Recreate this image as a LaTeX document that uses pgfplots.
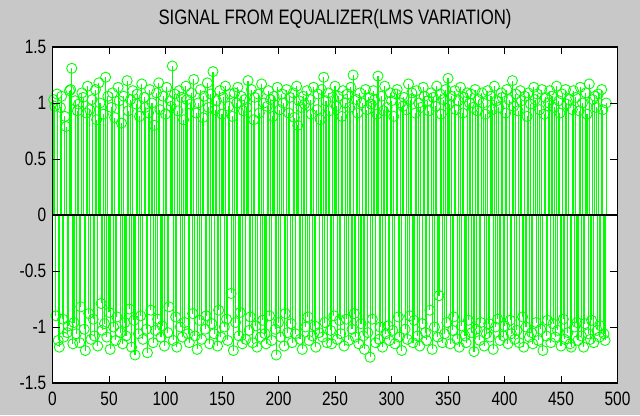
\documentclass[border=0pt]{standalone}
\usepackage{pgfplots}
\pgfplotsset{compat=1.18}
\usepackage{pgfplotstable}
\usepackage{fontspec}
\setmainfont{Liberation Sans}
\newfontfamily\narrowfont[FakeStretch=0.8]{Liberation Sans}
\definecolor{figgray}{RGB}{200,200,200}
\definecolor{mgreen}{RGB}{0,255,0}

\pgfplotstableread[row sep=\\]{
y\\
1.03\\ 0.97\\ -0.90\\ 1.08\\ -1.12\\ -1.18\\ 0.96\\ 1.06\\ -0.93\\ -1.09\\
0.88\\ 0.79\\ -1.05\\ -0.99\\ 1.11\\ 1.12\\ 1.31\\ -1.15\\ -0.96\\ 1.02\\
-1.06\\ 0.93\\ 0.99\\ -1.14\\ -0.82\\ 1.09\\ 1.05\\ -1.02\\ -1.21\\ 0.91\\
1.15\\ -0.88\\ 0.94\\ -1.11\\ 1.03\\ -0.93\\ -1.08\\ 1.12\\ 0.85\\ -1.17\\
1.18\\ 1.00\\ -0.79\\ -1.03\\ 0.90\\ -0.97\\ 1.23\\ -1.09\\ 1.06\\ -0.87\\
-1.20\\ 0.96\\ 1.09\\ -1.00\\ 0.87\\ -1.12\\ -0.91\\ 1.14\\ 1.02\\ -1.05\\
0.82\\ -1.15\\ 1.06\\ -0.96\\ -1.08\\ 1.20\\ 0.93\\ -0.84\\ 1.03\\ -1.18\\
1.11\\ -0.94\\ -1.25\\ 0.99\\ 1.08\\ -1.06\\ 0.88\\ -0.90\\ 1.17\\ -1.11\\
1.05\\ 0.96\\ -1.02\\ -1.23\\ 0.91\\ 1.12\\ -0.85\\ 1.00\\ -1.14\\ 0.80\\
-1.03\\ 1.09\\ -0.93\\ 1.18\\ 0.94\\ -1.09\\ -0.99\\ 1.06\\ -1.17\\ 0.90\\
1.14\\ -1.05\\ -0.82\\ 1.02\\ 0.97\\ 1.33\\ -1.12\\ 1.08\\ -0.91\\ -1.18\\
0.93\\ 1.11\\ -1.00\\ 1.05\\ -1.09\\ 0.85\\ -0.96\\ 1.15\\ 1.03\\ -1.06\\
-1.14\\ 0.99\\ 1.09\\ -0.88\\ 1.21\\ -1.08\\ 0.91\\ -1.20\\ 1.00\\ -0.94\\
1.12\\ -1.11\\ 0.87\\ 1.06\\ -1.02\\ -0.90\\ 1.18\\ 0.96\\ -1.15\\ 1.08\\
-0.97\\ 1.28\\ -1.06\\ 0.94\\ 1.02\\ -1.17\\ -0.85\\ 1.11\\ -1.09\\ 0.90\\
1.05\\ -1.00\\ 1.15\\ -0.93\\ -1.12\\ 0.97\\ 1.08\\ -0.70\\ 0.88\\ -1.21\\
1.09\\ -0.96\\ 1.00\\ 1.14\\ -1.08\\ -0.87\\ 1.06\\ -1.15\\ 0.93\\ 1.03\\
-1.11\\ 0.96\\ 1.20\\ -1.03\\ -0.91\\ 1.12\\ -1.14\\ 0.85\\ 1.05\\ -0.99\\
-1.18\\ 1.08\\ 0.91\\ -1.09\\ 1.17\\ -0.94\\ 1.00\\ -1.06\\ -1.15\\ 0.97\\
1.11\\ -0.90\\ 1.03\\ -1.12\\ 0.88\\ 1.06\\ -1.02\\ -1.25\\ 1.14\\ -0.96\\
0.94\\ -1.09\\ 1.08\\ 1.00\\ -1.17\\ -0.88\\ 1.12\\ -1.05\\ 0.91\\ 1.05\\
-0.97\\ -1.14\\ 1.09\\ 0.87\\ -1.06\\ 1.15\\ 0.80\\ 1.02\\ -1.11\\ 0.96\\
-1.20\\ 1.06\\ 0.99\\ -1.00\\ 1.11\\ -0.91\\ -1.12\\ 1.03\\ 0.90\\ -1.08\\
1.14\\ -0.99\\ -1.18\\ 0.94\\ 1.08\\ -1.05\\ 0.85\\ 1.12\\ -1.09\\ 1.23\\
-0.96\\ 1.02\\ -1.14\\ 1.09\\ 0.93\\ -1.03\\ -1.15\\ 1.05\\ -0.90\\ 1.15\\
0.97\\ -1.11\\ 1.06\\ -0.94\\ -1.06\\ 0.88\\ 1.11\\ -1.17\\ 1.00\\ -0.93\\
1.08\\ -1.12\\ 0.96\\ 1.14\\ -1.02\\ 1.25\\ -0.88\\ -1.09\\ 1.03\\ 0.91\\
-1.15\\ 1.09\\ -0.97\\ 1.00\\ -1.08\\ -1.20\\ 1.12\\ 0.94\\ -1.05\\ 1.05\\
-1.27\\ 0.99\\ -0.93\\ 1.11\\ 1.03\\ -1.14\\ 0.90\\ 1.24\\ -1.11\\ -1.00\\
1.06\\ -1.18\\ 0.93\\ 1.15\\ -1.06\\ 0.96\\ -0.99\\ -1.12\\ 1.09\\ 1.02\\
-1.03\\ 0.88\\ -1.15\\ 1.08\\ 1.12\\ -0.91\\ -1.09\\ 1.00\\ -1.21\\ 0.97\\
1.05\\ -1.02\\ 0.94\\ -1.11\\ 1.17\\ -0.90\\ 1.03\\ 1.09\\ -1.14\\ -0.94\\
0.91\\ 1.11\\ -1.08\\ 1.00\\ -1.17\\ 0.96\\ -0.97\\ 1.14\\ 1.06\\ -1.05\\
-1.12\\ 1.02\\ 0.93\\ -0.85\\ 1.09\\ -1.20\\ 1.05\\ -1.00\\ 0.97\\ 1.15\\
-1.09\\ -0.72\\ 1.08\\ 0.90\\ -1.14\\ 1.03\\ -1.06\\ 1.12\\ -0.96\\ 1.22\\
0.99\\ -1.15\\ 1.06\\ -1.03\\ -0.91\\ 1.11\\ 0.94\\ -1.11\\ 1.02\\ -1.18\\
1.14\\ -0.99\\ 0.91\\ 1.05\\ -1.08\\ -1.14\\ 1.09\\ -0.94\\ 1.00\\ 1.08\\
-1.05\\ 0.96\\ -1.22\\ 1.12\\ -1.02\\ 0.93\\ 1.03\\ -1.12\\ -0.96\\ 1.09\\
1.00\\ -1.17\\ 0.90\\ -1.06\\ 1.11\\ -0.97\\ -1.09\\ 1.06\\ 0.94\\ -1.20\\
1.15\\ -1.00\\ 1.02\\ -0.93\\ 0.96\\ -1.12\\ 1.09\\ 1.05\\ -1.08\\ -0.99\\
0.91\\ 1.12\\ -1.15\\ 1.03\\ -0.94\\ -1.06\\ 1.20\\ 0.97\\ -1.11\\ 1.08\\
-1.03\\ 0.93\\ -1.14\\ 1.11\\ 1.02\\ -0.91\\ -1.18\\ 1.06\\ -1.00\\ 0.88\\
1.09\\ -1.09\\ 0.99\\ -1.05\\ -1.15\\ 1.14\\ 1.03\\ -0.96\\ 1.08\\ -1.12\\
0.94\\ -1.02\\ 1.12\\ -1.21\\ 0.90\\ 1.05\\ -1.08\\ -0.94\\ 1.00\\ 1.11\\
-1.14\\ 1.06\\ -0.97\\ 0.96\\ -1.09\\ 1.15\\ -1.03\\ 1.02\\ 0.91\\ -1.17\\
1.08\\ -0.93\\ -1.11\\ 1.12\\ 0.99\\ -1.05\\ 1.03\\ -1.15\\ -1.18\\ 0.94\\
1.11\\ -1.00\\ 1.05\\ -0.96\\ -1.12\\ 0.93\\ 1.14\\ -1.08\\ 1.00\\ -1.18\\
-0.97\\ 1.09\\ 0.90\\ -1.06\\ 1.17\\ -1.11\\ -0.94\\ 1.03\\ -1.14\\ 1.06\\
0.96\\ -1.03\\ 1.08\\ -1.09\\ -0.99\\ 1.12\\ 0.94\\ -1.06\\ -1.12\\ 1.00\\
}\eqdata

\begin{document}
\begin{tikzpicture}
\fill[figgray] (0,0) rectangle (480pt,311.25pt);
\useasboundingbox (0,0) rectangle (480pt,311.25pt);
\begin{axis}[
  at={(39.4pt,24pt)}, anchor=south west,
  scale only axis, width=423.75pt, height=252pt,
  xmin=0, xmax=500, ymin=-1.5, ymax=1.5,
  xtick={0,50,100,150,200,250,300,350,400,450,500},
  xticklabels={0,50,100,150,200,250,300,350,400,450,500},
  ytick={-1.5,-1,-0.5,0,0.5,1,1.5},
  yticklabels={-1.5,-1,-0.5,0,0.5,1,1.5},
  tick align=inside, major tick length=5.6pt,
  tick style={black, line width=0.6pt},
  axis line style={black, line width=1pt},
  axis on top,
  axis background/.style={fill=white},
  xticklabel style={font=\narrowfont\fontsize{14.5}{16}\selectfont, inner sep=0pt, anchor=north, yshift=-6.75pt, text=black},
  yticklabel style={font=\narrowfont\fontsize{14.5}{16}\selectfont, inner sep=0pt, anchor=east, xshift=-4.5pt, text=black},
  title={SIGNAL FROM EQUALIZER(LMS VARIATION)},
  title style={font=\narrowfont\fontsize{15.7}{18}\selectfont, at={(0.5,1)}, anchor=base, yshift=11.25pt, inner sep=0pt, text=black},
  clip mode=individual,
]
\addplot[mgreen, line width=0.8pt, ycomb, mark=o, mark size=3.8pt,
  mark options={mgreen, line width=0.65pt, fill=none}]
  table[x expr=\coordindex+1, y=y] {\eqdata};
\addplot[black, line width=0.9pt, forget plot] coordinates {(0,0) (500,0)};
\end{axis}
\end{tikzpicture}
\end{document}
